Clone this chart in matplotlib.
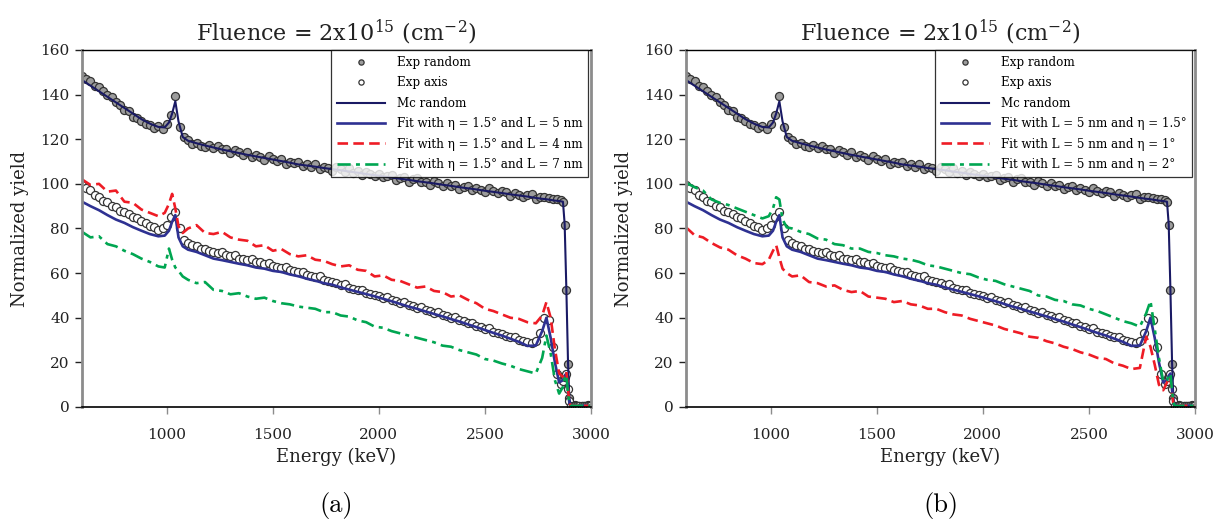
import matplotlib
matplotlib.use("Agg")
import matplotlib.pyplot as plt
import numpy as np

# 衬线字体，接近原图的排版
plt.rcParams["font.family"] = ["DejaVu Serif"]
plt.rcParams["mathtext.fontset"] = "custom"
plt.rcParams["mathtext.rm"] = "DejaVu Serif"

# measured channels (keV)
energy_exp = np.concatenate([np.arange(600, 2861, 20),
                             [2868, 2876, 2884, 2892, 2898],
                             np.arange(2906, 3000, 10)])

exp_random = [
    148.5, 147.0, 146.0, 144.0, 143.5, 141.5, 140.0, 139.0, 136.5, 135.5,
    133.0, 132.5, 130.0, 129.5, 128.0, 127.0, 126.5, 125.0, 126.0, 124.5,
    127.0, 131.0, 139.5, 125.5, 121.0, 119.5, 118.0, 118.5, 117.0, 116.5,
    117.3, 115.9, 117.0, 115.4, 115.5, 113.7, 115.3, 114.1, 113.1, 114.5,
    112.0, 113.0, 112.1, 110.8, 112.5, 111.3, 110.3, 111.1, 109.1, 110.0,
    109.4, 109.7, 107.9, 109.0, 107.7, 109.1, 106.7, 107.6, 106.9, 105.7,
    107.5, 106.5, 105.4, 107.1, 104.9, 105.6, 103.9, 105.4, 104.3, 103.4,
    104.5, 103.1, 103.5, 104.1, 101.9, 102.5, 103.0, 101.0, 102.1, 102.7,
    100.8, 101.0, 99.5, 101.3, 100.4, 99.2, 100.6, 99.1, 99.5, 97.9,
    98.7, 99.2, 97.2, 98.3, 97.3, 96.2, 98.0, 96.7, 95.7, 96.9,
    96.2, 94.4, 96.1, 95.0, 94.2, 95.2, 95.3, 93.1, 94.0, 93.9,
    93.6, 93.2, 93.4, 92.6,
    91.8, 81.6, 52.6, 19.3, 4.0,
    0.6, 0.5, 0.7, 0.5, 0.6, 0.4, 0.6, 0.5, 0.7, 0.5,
]

exp_axis = [
    99.5, 98.0, 97.2, 95.0, 94.3, 92.5, 91.8, 90.0, 89.6, 88.0,
    87.2, 86.5, 85.0, 84.6, 83.4, 82.6, 81.0, 80.6, 79.4, 80.2,
    81.5, 85.0, 87.5, 80.0, 75.0, 73.5, 72.6, 72.0, 71.0, 70.6,
    70.0, 69.6, 68.8, 69.4, 68.0, 67.6, 68.2, 66.5, 66.4, 65.8,
    66.3, 64.9, 64.9, 64.0, 64.6, 63.2, 62.9, 62.2, 62.6, 61.2,
    61.0, 60.3, 60.6, 59.2, 58.9, 58.2, 58.5, 57.0, 56.6, 55.8,
    55.5, 54.6, 55.0, 53.5, 53.1, 52.3, 52.6, 51.2, 50.8, 50.0,
    49.7, 48.9, 49.3, 47.8, 47.5, 46.7, 47.0, 45.6, 45.3, 44.5,
    44.8, 43.4, 43.1, 42.3, 42.6, 41.1, 40.7, 39.9, 40.2, 38.8,
    38.4, 37.5, 37.8, 36.2, 35.8, 35.0, 35.3, 33.7, 33.3, 32.5,
    32.0, 31.2, 31.5, 30.0, 29.6, 29.0, 28.8, 29.5, 33.0, 40.0,
    39.0, 27.0, 15.0, 10.5,
    11.5, 13.5, 15.0, 8.0, 2.5,
    0.5, 0.6, 0.4, 0.5, 0.6, 0.5, 0.4, 0.6, 0.5, 0.5,
]

# simulation grid (keV)
energy_fit = np.concatenate([np.arange(600, 961, 40),
                             [990, 1010, 1025, 1040, 1055, 1075],
                             np.arange(1100, 2701, 40),
                             [2740, 2770, 2790, 2810, 2830, 2850, 2868, 2876,
                              2884, 2892, 2898, 2905, 3000]])

mc_random = [
    146.5, 144.0, 141.5, 139.0, 136.5, 134.0, 131.5, 129.0, 127.0, 125.5,
    125.3, 127.5, 131.5, 137.0, 128.0, 121.0,
    119.3, 118.2, 117.2, 116.3, 115.4, 114.6, 113.8, 113.0, 112.3, 111.6,
    110.9, 110.2, 109.5, 108.7, 108.2, 107.7, 107.1, 106.6, 106.1, 105.5,
    105.0, 104.4, 103.9, 103.4, 102.8, 102.3, 101.8, 101.2, 100.7, 100.2,
    99.6, 99.1, 98.5, 98.0, 97.5, 96.9, 96.4, 95.9, 95.3, 94.8, 94.3,
    93.7, 93.3, 93.1, 92.8, 92.5, 92.3, 92.0, 82.0, 53.0, 19.5, 4.0, 0.5, 0.5,
]

fit_eta15_l5 = [
    92.0, 90.0, 88.2, 86.0, 84.0, 82.5, 80.6, 79.0, 77.5, 76.5,
    76.8, 79.0, 83.0, 86.0, 76.0, 72.0,
    70.5, 69.5, 68.0, 66.5, 65.8, 65.0, 64.2, 63.5, 62.5, 62.0,
    61.0, 60.5, 59.4, 58.6, 57.5, 56.6, 55.5, 54.8, 53.6, 52.6,
    51.6, 50.6, 49.6, 48.5, 47.4, 46.2, 45.0, 44.0, 42.8, 41.7,
    40.6, 39.4, 38.3, 37.0, 35.8, 34.5, 33.2, 32.0, 30.6, 29.2, 27.4,
    27.5, 34.0, 40.0, 31.0, 20.0, 11.0, 12.0, 14.0, 15.0, 7.5, 2.0, 0.5, 0.5,
]

fit_eta15_l4 = [
    102.0, 99.5, 100.0, 96.5, 97.0, 92.0, 91.5, 88.5, 87.0, 85.5,
    87.0, 91.0, 95.5, 89.0, 81.0, 78.0,
    80.0, 81.5, 78.0, 77.5, 78.5, 76.0, 75.0, 74.5, 72.0, 72.5,
    70.0, 70.8, 68.5, 67.5, 68.0, 66.0, 65.5, 64.0, 63.0, 63.5,
    61.5, 61.0, 58.5, 59.0, 57.0, 56.5, 55.0, 53.5, 54.0, 52.0,
    51.5, 49.5, 50.0, 48.0, 46.5, 44.0, 43.0, 41.5, 40.0, 39.5, 38.0,
    37.5, 41.0, 47.0, 40.0, 26.0, 15.0, 13.5, 15.0, 15.8, 8.0, 2.0, 0.5, 0.5,
]

fit_eta15_l7 = [
    78.5, 76.0, 76.5, 73.0, 72.0, 70.0, 68.5, 66.5, 65.0, 63.0,
    62.5, 71.0, 66.0, 62.5, 61.0, 58.5,
    57.0, 55.5, 56.0, 52.5, 52.0, 50.5, 51.0, 49.5, 48.5, 49.0,
    47.5, 46.5, 46.0, 45.0, 44.5, 44.0, 42.5, 42.5, 41.0, 40.5,
    38.8, 38.0, 36.0, 35.5, 34.0, 33.0, 32.0, 31.0, 30.0, 29.0,
    27.5, 27.0, 25.5, 24.5, 23.5, 21.5, 20.8, 19.5, 18.5, 17.0, 16.0,
    15.0, 22.0, 32.0, 24.0, 12.0, 6.0, 9.0, 13.0, 14.3, 6.0, 1.5, 0.5, 0.5,
]

fit_l5_eta1 = [
    80.5, 77.0, 76.0, 73.5, 71.5, 70.5, 68.0, 66.5, 64.5, 64.0,
    66.0, 70.0, 72.5, 67.0, 62.0, 60.0,
    58.5, 59.0, 56.0, 55.5, 54.0, 54.5, 52.5, 51.5, 52.0, 49.5,
    49.0, 48.5, 47.0, 47.5, 46.0, 45.5, 44.0, 44.0, 42.5, 41.5,
    41.0, 39.5, 38.5, 37.5, 36.5, 35.0, 34.0, 33.0, 31.5, 31.0,
    29.5, 28.5, 27.0, 26.0, 24.5, 23.5, 22.0, 21.5, 19.5, 18.5, 17.0,
    17.5, 31.5, 27.0, 19.0, 10.0, 7.5, 11.0, 13.5, 13.0, 6.0, 1.5, 0.5, 0.5,
]

fit_l5_eta2 = [
    100.5, 98.5, 97.0, 93.0, 91.5, 90.5, 89.0, 87.5, 86.0, 84.5,
    85.5, 89.0, 94.0, 93.0, 84.0, 80.5,
    80.0, 78.5, 77.5, 75.5, 75.0, 73.0, 72.5, 71.0, 71.0, 69.5,
    69.0, 68.0, 67.5, 66.5, 66.0, 65.0, 63.5, 63.0, 62.0, 61.0,
    60.0, 59.5, 58.0, 57.0, 56.5, 55.0, 54.0, 53.0, 52.0, 50.0,
    49.5, 48.0, 47.5, 46.0, 45.5, 44.0, 43.0, 41.5, 40.0, 38.5, 37.5,
    36.0, 42.0, 47.5, 35.0, 22.0, 11.5, 12.0, 14.0, 15.0, 7.0, 2.0, 0.5, 0.5,
]

x_ticks = [1000, 1500, 2000, 2500, 3000]
y_ticks = [0, 20, 40, 60, 80, 100, 120, 140, 160]

NAVY = "#1a1a64"
BLUE = "#2e3192"
RED = "#ee1c25"
GREEN = "#00a651"


def draw_panel(ax, fits, tag):
    ax.plot(energy_exp, exp_random, "o", ms=5.8, mfc="#9c9c9c", mec="#333333",
            mew=0.9, label="Exp random")
    ax.plot(energy_exp, exp_axis, "o", ms=5.8, mfc="white", mec="#333333",
            mew=0.9, label="Exp axis")
    ax.plot(energy_fit, mc_random, color=NAVY, lw=1.5, label="Mc random")
    for values, color, style, label in fits:
        ax.plot(energy_fit, values, color=color, lw=1.9, dashes=style, label=label)

    ax.set_xlim(600, 3000)
    ax.set_ylim(0, 160)
    ax.set_xticks(x_ticks)
    ax.set_yticks(y_ticks)

    ax.spines["left"].set_color("#8c8c8c")
    ax.spines["right"].set_color("#8c8c8c")
    ax.spines["left"].set_linewidth(2)
    ax.spines["right"].set_linewidth(2)
    ax.spines["top"].set_linewidth(1)
    ax.spines["bottom"].set_linewidth(1.2)
    ax.tick_params(axis="y", direction="out", length=5, width=1, color="#222222",
                   pad=4, labelsize=11, labelcolor="#222222")
    ax.tick_params(axis="x", direction="out", length=5, width=1, color="#8c8c8c",
                   pad=10, labelsize=11, labelcolor="#222222")

    ax.set_xlabel("Energy (keV)", fontsize=13, color="#222222")
    ax.set_ylabel("Normalized yield", fontsize=13, color="#222222")
    ax.xaxis.set_label_coords(0.5, -0.115)
    ax.yaxis.set_label_coords(-0.105, 0.5)
    ax.set_title(r"Fluence = 2x10$^{15}$ (cm$^{-2}$)", fontsize=16, pad=7,
                 color="#222222")

    leg = ax.legend(loc="upper right", bbox_to_anchor=(0.995, 1.0), borderaxespad=0,
                    fontsize=8.6, frameon=True, fancybox=False, numpoints=1,
                    handlelength=4.0, labelspacing=0.62, markerscale=0.65,
                    borderpad=0.5, handletextpad=1.0)
    leg.get_frame().set_edgecolor("black")
    leg.get_frame().set_linewidth(0.9)

    ax.text(0.5, -0.275, tag, transform=ax.transAxes, ha="center", va="center",
            fontsize=19, family="cmr10")


if __name__ == "__main__":
    fig = plt.figure(figsize=(12.24, 5.25), dpi=100)

    # 两个子图并排
    ax_a = fig.add_axes((0.067, 0.2248, 0.4158, 0.680))
    ax_b = fig.add_axes((0.5605, 0.2248, 0.4158, 0.680))

    solid = (None, None)
    dash = (4, 2)
    dash_dot = (5, 2, 1.5, 2)

    draw_panel(ax_a, [
        (fit_eta15_l5, BLUE, solid, "Fit with η = 1.5° and L = 5 nm"),
        (fit_eta15_l4, RED, dash, "Fit with η = 1.5° and L = 4 nm"),
        (fit_eta15_l7, GREEN, dash_dot, "Fit with η = 1.5° and L = 7 nm"),
    ], "(a)")

    draw_panel(ax_b, [
        (fit_eta15_l5, BLUE, solid, "Fit with L = 5 nm and η = 1.5°"),
        (fit_l5_eta1, RED, dash, "Fit with L = 5 nm and η = 1°"),
        (fit_l5_eta2, GREEN, dash_dot, "Fit with L = 5 nm and η = 2°"),
    ], "(b)")

    fig.savefig("out.png", dpi=100)
